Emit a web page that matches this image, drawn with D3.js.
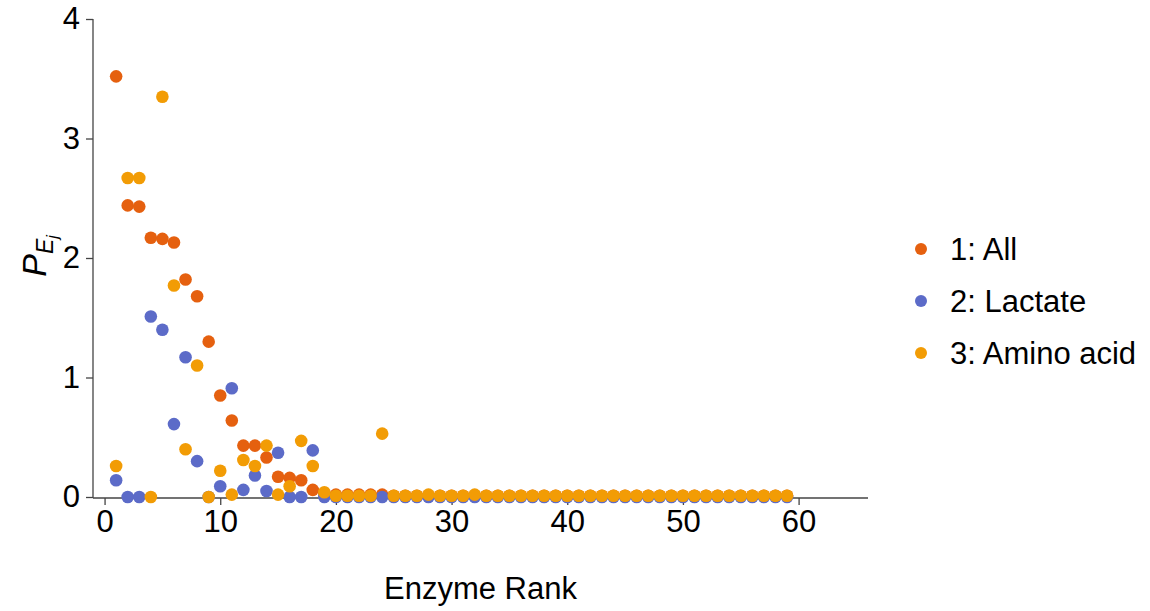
<!DOCTYPE html>
<html>
<head>
<meta charset="utf-8">
<script src="https://cdn.jsdelivr.net/npm/d3@7"></script>
<style>
  html, body { margin: 0; padding: 0; background: #fff; }
  svg { display: block; font-family: "Liberation Sans", Arial, sans-serif; }
</style>
</head>
<body>
<svg id="chart" width="1150" height="611"></svg>
<script>
// ---- data ----
const ranks = d3.range(1, 60); // 1..59
const seriesNames = ["1: All", "2: Lactate", "3: Amino acid"];
const seriesColors = ["#E5600F", "#5C6BC8", "#F29C05"];
const xTicks = [0, 10, 20, 30, 40, 50, 60];
const yTicks = [0, 1, 2, 3, 4];

const allValues = [3.52, 2.44, 2.43, 2.17, 2.16, 2.13, 1.82, 1.68, 1.30, 0.85,
  0.64, 0.43, 0.43, 0.33, 0.17, 0.16, 0.14, 0.06, 0.03, 0.02,
  0.02, 0.02, 0.02, 0.02, 0.01, 0.01, 0.01, 0.01, 0.01, 0.01,
  0.01, 0.01, 0.01, 0.01, 0.01, 0.01, 0.01, 0.01, 0.01, 0.01,
  0.01, 0.01, 0.01, 0.01, 0.01, 0.01, 0.01, 0.01, 0.01, 0.01,
  0.01, 0.01, 0.01, 0.01, 0.01, 0.01, 0.01, 0.01, 0.01];
const lactateValues = [0.14, 0.00, 0.00, 1.51, 1.40, 0.61, 1.17, 0.30, 0.00, 0.09,
  0.91, 0.06, 0.18, 0.05, 0.37, 0.00, 0.00, 0.39, 0.00, 0.00,
  0.00, 0.00, 0.00, 0.00, 0.00, 0.00, 0.00, 0.00, 0.00, 0.00,
  0.00, 0.00, 0.00, 0.00, 0.00, 0.00, 0.00, 0.00, 0.00, 0.00,
  0.00, 0.00, 0.00, 0.00, 0.00, 0.00, 0.00, 0.00, 0.00, 0.00,
  0.00, 0.00, 0.00, 0.00, 0.00, 0.00, 0.00, 0.00, 0.00];
const aminoValues = [0.26, 2.67, 2.67, 0.00, 3.35, 1.77, 0.40, 1.10, 0.00, 0.22,
  0.02, 0.31, 0.26, 0.43, 0.02, 0.09, 0.47, 0.26, 0.04, 0.01,
  0.01, 0.01, 0.01, 0.53, 0.01, 0.01, 0.01, 0.02, 0.01, 0.01,
  0.01, 0.02, 0.01, 0.01, 0.01, 0.01, 0.01, 0.01, 0.01, 0.01,
  0.01, 0.01, 0.01, 0.01, 0.01, 0.01, 0.01, 0.01, 0.01, 0.01,
  0.01, 0.01, 0.01, 0.01, 0.01, 0.01, 0.01, 0.01, 0.01];

const seriesValues = [allValues, lactateValues, aminoValues];

// ---- layout ----
const svg = d3.select("#chart");
const x = d3.scaleLinear().domain([-1, 66]).range([93, 868]);
const y = d3.scaleLinear().domain([0, 4]).range([497, 19]);
const axisColor = "#444";
const fontFam = "'Liberation Sans', Arial, sans-serif";

// x axis
const xAxis = svg.append("g")
  .attr("transform", `translate(0,${y(0) + 1})`)
  .call(d3.axisBottom(x).tickValues(xTicks).tickSize(7).tickPadding(5).tickFormat(d3.format("d")));
// y axis
const yAxis = svg.append("g")
  .attr("transform", `translate(${x(-1)},0)`)
  .call(d3.axisLeft(y).tickValues(yTicks).tickSize(7).tickPadding(6).tickFormat(d3.format("d")));

[xAxis, yAxis].forEach(g => {
  g.select(".domain").attr("stroke", axisColor).attr("stroke-width", 1.3);
  g.selectAll(".tick line").attr("stroke", axisColor).attr("stroke-width", 1.3);
  g.selectAll(".tick text").attr("fill", "#000").attr("font-size", 31)
    .attr("font-family", fontFam);
});
xAxis.select(".domain").attr("d", `M${x(-1)},0H${x(66)}`);
yAxis.select(".domain").attr("d", `M0,${y(4)}V${y(0) + 1}`);

// points
seriesValues.forEach((vals, si) => {
  svg.append("g").selectAll("circle")
    .data(vals.map((v, i) => ({ r: ranks[i], v })))
    .join("circle")
    .attr("cx", d => x(d.r))
    .attr("cy", d => y(d.v))
    .attr("r", 6.3)
    .attr("fill", seriesColors[si]);
});

// x axis title
svg.append("text")
  .attr("x", x(32.5)).attr("y", 599)
  .attr("text-anchor", "middle")
  .attr("font-size", 31)
  .attr("fill", "#000")
  .text("Enzyme Rank");

// y axis title P_{E_j}
const yl = svg.append("text")
  .attr("transform", `translate(46,${256}) rotate(-90)`)
  .attr("text-anchor", "middle")
  .attr("fill", "#000")
  .attr("font-size", 34)
  .attr("font-style", "italic");
yl.append("tspan").text("P");
yl.append("tspan").attr("font-size", 23).attr("dy", 7).text("E");
yl.append("tspan").attr("font-size", 16).attr("dy", 5).text("j");

// legend
const legend = svg.append("g");
seriesNames.forEach((name, i) => {
  const cy = 249 + i * 52;
  legend.append("circle").attr("cx", 921).attr("cy", cy).attr("r", 6).attr("fill", seriesColors[i]);
  legend.append("text").attr("x", 950).attr("y", cy + 11)
    .attr("font-size", 31).attr("fill", "#000").text(name);
});
</script>
</body>
</html>
